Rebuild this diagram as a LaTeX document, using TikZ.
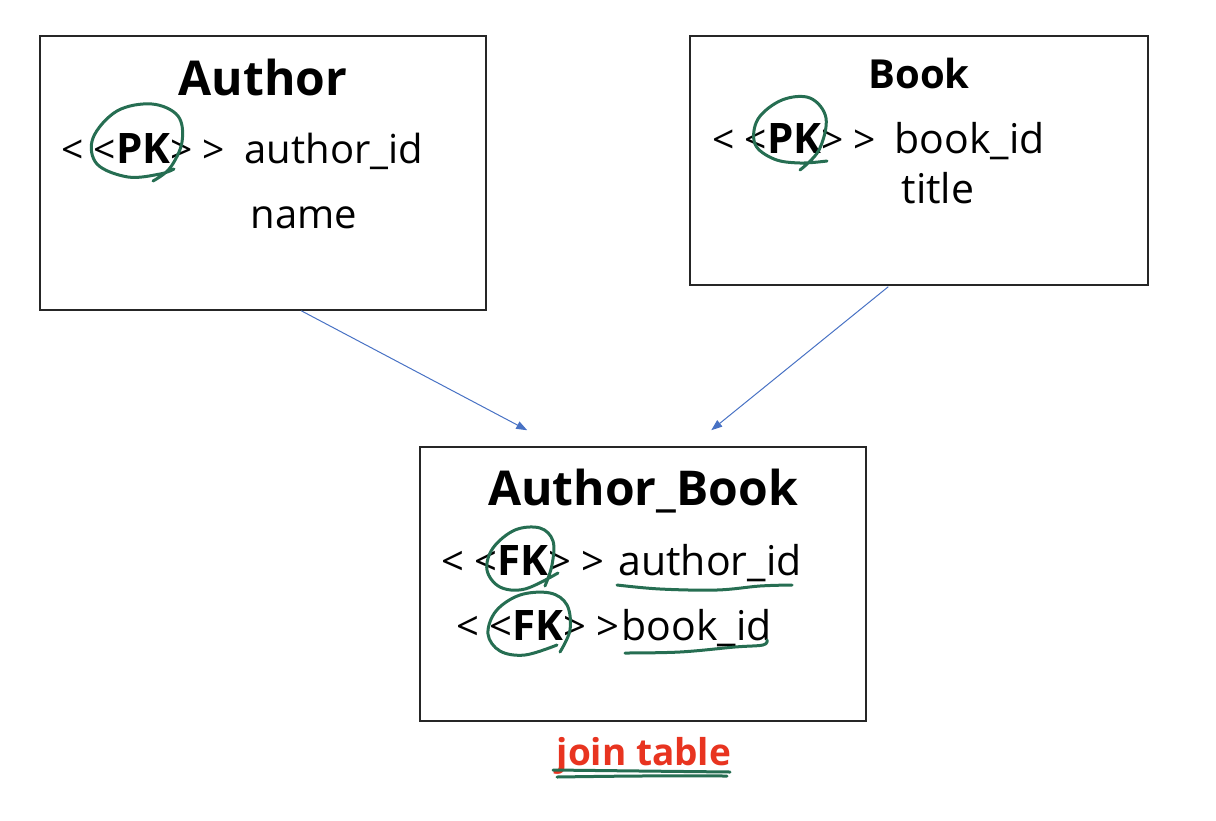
\documentclass[tikz,border=0pt]{standalone}
\usepackage{fontspec}
\setmainfont{Open Sans}
\usetikzlibrary{arrows.meta,calc}
\definecolor{pen}{RGB}{38,110,82}
\definecolor{arrowblue}{RGB}{72,114,196}
\definecolor{jointred}{RGB}{232,52,32}
\newcommand{\mk}[1]{<\hspace{10pt}<{\fontsize{42}{48}\selectfont\bfseries #1}>\hspace{10pt}>}
\begin{document}
\begin{tikzpicture}[x=1pt,y=-1pt,
  entity/.style={draw=black!85,line width=1.5pt,fill=none,inner sep=0pt},
  title/.style={anchor=base,font=\fontsize{48}{56}\selectfont\bfseries},
  field/.style={anchor=base west,font=\fontsize{40}{46}\selectfont},
  fieldb/.style={anchor=base west,font=\fontsize{41}{47}\selectfont},
  marker/.style={anchor=base west,font=\fontsize{39}{45}\selectfont},
  rel/.style={draw=arrowblue,line width=1pt,-{Triangle[length=11pt,width=8pt]}},
  ink/.style={draw=pen,line width=3pt,line cap=round,line join=round}]
\useasboundingbox (0,0) rectangle (1216,820);
% boxes
\node[entity,minimum width=446pt,minimum height=274pt] (author) at (263,173) {};
\node[entity,minimum width=458pt,minimum height=249pt] (book) at (919,160.5) {};
\node[entity,minimum width=446pt,minimum height=274pt] (ab) at (643,584) {};
% Author
\node[title] (authorT) at (263,95) {Author};
\node[marker] (authorPK) at (58,163) {\mk{PK}};
\node[field] (authorF1) at (241,163) {author\_id};
\node[field] (authorF2) at (247,228) {name};
% Book
\node[title,font=\fontsize{40}{46}\selectfont\bfseries] (bookT) at (919,88) {Book};
\node[marker] (bookPK) at (709,153) {\mk{PK}};
\node[field,font=\fontsize{41}{47}\selectfont] (bookF1) at (891,153) {book\_id};
\node[field,font=\fontsize{41}{47}\selectfont] (bookF2) at (898,203) {title};
% Author_Book
\node[title] (abT) at (643,505) {Author\_Book};
\node[marker,font=\fontsize{40}{46}\selectfont] (abFK1) at (438,575) {\mk{FK}};
\node[fieldb] (abF1) at (615,575) {author\_id};
\node[marker,font=\fontsize{40}{46}\selectfont] (abFK2) at (453,640) {\mk{FK}};
\node[fieldb] (abF2) at (618,640) {book\_id};
% join table label
\node[anchor=base,font=\fontsize{37}{43}\selectfont\bfseries,text=jointred] (join) at (644,765) {join table};
% connectors
\coordinate (a1) at ($(author.south west)+(262,0)$);
\coordinate (a2) at ($(ab.north west)+(108,-16)$);
\coordinate (b1) at ($(book.south west)+(199,1)$);
\coordinate (b2) at ($(ab.north west)+(292,-16)$);
\draw[rel] (a1) -- (a2);
\draw[rel] (b1) -- (b2);
% hand-drawn marks
\draw[ink] plot[smooth,tension=0.6] coordinates {(153,181) (170,168) (182,142) (178,116) (152,104) (117,111) (93,138) (97,164) (128,177) (160,174) (174,169)};
\draw[ink] plot[smooth,tension=0.6] coordinates {(800,170) (819,150) (826,118) (810,98) (782,100) (758,119) (755,144) (774,159) (800,163) (827,161)};
\draw[ink] plot[smooth,tension=0.6] coordinates {(545,586) (552,565) (553,541) (540,528) (515,530) (493,548) (487,570) (500,587) (525,589) (558,573)};
\draw[ink] plot[smooth,tension=0.6] coordinates {(560,652) (570,630) (567,605) (550,593) (520,595) (496,611) (488,634) (500,651) (525,655) (557,645)};
\draw[ink] plot[smooth,tension=0.6] coordinates {(617,585) (660,589) (717,590) (760,586) (792,585)};
\draw[ink] plot[smooth,tension=0.6] coordinates {(625,653) (680,652) (735,647) (763,645) (767,640)};
\draw[ink] plot[smooth,tension=0.6] coordinates {(553,770) (640,771) (730,772)};
\draw[ink] plot[smooth,tension=0.6] coordinates {(557,777) (640,776) (727,776)};
\end{tikzpicture}
\end{document}
